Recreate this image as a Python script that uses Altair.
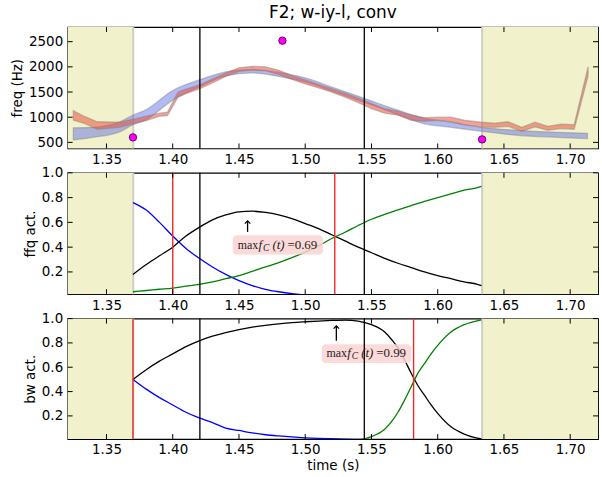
import altair as alt
import pandas as pd

TITLE = "F2; w-iy-l, conv"
X_DOMAIN = [1.3207, 1.721]
X_TICKS = [1.35, 1.40, 1.45, 1.50, 1.55, 1.60, 1.65, 1.70]

SHADE_START = [1.3207, 1.6335]
SHADE_END = [1.3702, 1.721]
SHADE_EDGES = [1.3702, 1.6335]
BLACK_LINES = [1.4205, 1.5446]

# ---------------- panel 1 : formant tracks ----------------
F_DOMAIN = [380, 2790]
F_TICKS = [500, 1000, 1500, 2000, 2500]
BLUE_T = [1.325, 1.34, 1.36, 1.37, 1.38, 1.40, 1.42, 1.44, 1.46, 1.48, 1.50, 1.52,
          1.545, 1.57, 1.59, 1.61, 1.633, 1.66, 1.69, 1.713]
BLUE_LO = [550, 600, 710, 850, 950, 1340, 1600, 1820, 1880, 1810, 1700, 1520,
           1290, 1050, 870, 800, 720, 640, 600, 575]
BLUE_HI = [790, 800, 906, 1040, 1150, 1530, 1740, 1900, 1950, 1890, 1780, 1600,
           1370, 1140, 980, 900, 800, 740, 700, 680]
RED_T = [1.325, 1.333, 1.343, 1.36, 1.37, 1.38, 1.39, 1.396, 1.404, 1.41, 1.42, 1.43,
         1.44, 1.45, 1.46, 1.47, 1.48, 1.49, 1.50, 1.51, 1.52, 1.53, 1.54, 1.55, 1.56,
         1.57, 1.58, 1.59, 1.60, 1.61, 1.62, 1.633, 1.643, 1.653, 1.6635, 1.6735,
         1.683, 1.693, 1.703, 1.7135]
RED_LO = [940, 880, 760, 800, 870, 930, 1020, 1030, 1400, 1470, 1560, 1680,
          1810, 1910, 1930, 1920, 1850, 1750, 1660, 1580, 1500, 1400, 1290, 1170, 1080,
          1040, 940, 920, 940, 910, 850, 810, 800, 820, 720, 810,
          740, 775, 760, 1820]
RED_HI = [1130, 1020, 910, 900, 960, 1020, 1080, 1100, 1500, 1560, 1640, 1760,
          1880, 1980, 2010, 2000, 1930, 1830, 1740, 1650, 1570, 1480, 1380, 1270, 1170,
          1120, 1040, 990, 1000, 1000, 940, 900, 880, 910, 800, 900,
          820, 860, 850, 2000]
PT_T = [1.37, 1.4828, 1.6335]
PT_F = [600, 2520, 560]

# ---------------- panel 2 : ffq activations ----------------
ACT_TICKS = [0.2, 0.4, 0.6, 0.8, 1.0]
FFQ_DOMAIN = [0.02, 1.0]
FFQ_T = [1.37, 1.38, 1.39, 1.40, 1.41, 1.42, 1.43, 1.44, 1.45, 1.46, 1.47, 1.48, 1.49,
         1.50, 1.51, 1.52, 1.53, 1.54, 1.55, 1.56, 1.57, 1.58, 1.59, 1.60, 1.61, 1.62,
         1.63, 1.633]
FFQ_BLUE = [0.76, 0.70, 0.60, 0.49, 0.39, 0.31, 0.24, 0.18, 0.13, 0.09, 0.06, 0.04, 0.025,
            0.015, 0.01, 0.007, 0.005, 0.004, 0.003, 0.002, 0.002, 0.001, 0.001, 0.001,
            0.0, 0.0, 0.0, 0.0]
FFQ_BLACK = [0.18, 0.26, 0.33, 0.40, 0.49, 0.56, 0.62, 0.66, 0.685, 0.69, 0.68, 0.66, 0.63,
             0.59, 0.55, 0.50, 0.45, 0.40, 0.355, 0.31, 0.27, 0.235, 0.20, 0.17, 0.145, 0.12,
             0.10, 0.09]
FFQ_GREEN = [0.04, 0.05, 0.06, 0.07, 0.085, 0.10, 0.12, 0.145, 0.17, 0.205, 0.24, 0.275, 0.315,
             0.36, 0.41, 0.47, 0.52, 0.575, 0.625, 0.665, 0.70, 0.735, 0.77, 0.80, 0.83, 0.86,
             0.88, 0.89]
FFQ_RED_LINES = [1.40, 1.5223]
FFQ_ANN = {"t": 1.4565, "tip": 0.612, "tail": 0.523, "ty": 0.419,
           "bx1": 1.4453, "bx2": 1.5135, "by1": 0.341, "by2": 0.496, "val": "=0.69"}

# ---------------- panel 3 : bw activations ----------------
BW_DOMAIN = [0.01, 1.0]
BW_T = [1.37, 1.38, 1.39, 1.40, 1.41, 1.42, 1.43, 1.44, 1.45, 1.46, 1.47, 1.48, 1.49,
        1.50, 1.51, 1.52, 1.53, 1.54, 1.55, 1.56, 1.565, 1.57, 1.575, 1.58, 1.585, 1.59,
        1.595, 1.60, 1.61, 1.62, 1.633]
BW_BLACK = [0.50, 0.58, 0.65, 0.71, 0.77, 0.817, 0.855, 0.885, 0.91, 0.93, 0.945, 0.957,
            0.967, 0.974, 0.98, 0.985, 0.988, 0.98, 0.95, 0.89, 0.83, 0.76, 0.66, 0.55,
            0.45, 0.37, 0.29, 0.22, 0.11, 0.05, 0.01]
BW_GREEN = [0.0, 0.0, 0.0, 0.0, 0.0, 0.0, 0.0, 0.0, 0.0, 0.0, 0.0, 0.0, 0.0,
            0.0, 0.0, 0.001, 0.002, 0.004, 0.03, 0.09, 0.15, 0.23, 0.33, 0.44,
            0.55, 0.63, 0.71, 0.78, 0.89, 0.95, 0.99]
BW_BLUE = [0.50, 0.42, 0.35, 0.29, 0.23, 0.183, 0.145, 0.10, 0.08, 0.06, 0.045, 0.035,
           0.027, 0.02, 0.015, 0.012, 0.009, 0.007, 0.005, 0.004, 0.003, 0.002, 0.002,
           0.001, 0.001, 0.001, 0.0, 0.0, 0.0, 0.0, 0.0]
BW_RED_LINES = [1.37, 1.5818]
BW_ANN = {"t": 1.5235, "tip": 0.94, "tail": 0.817, "ty": 0.713,
          "bx1": 1.5125, "bx2": 1.58, "by1": 0.634, "by2": 0.79, "val": "=0.99"}

W = 533
FONT = "DejaVu Sans"
MATH = "Liberation Serif"

xscale = alt.Scale(domain=X_DOMAIN, nice=False, zero=False)


def xaxis(title):
    kw = dict(values=X_TICKS, format=".2f", labelFontSize=13.5, labelFont=FONT,
              labelColor="black", ticks=False, tickSize=0, labelPadding=4,
              domain=False, grid=False, titleFont=FONT, titleFontSize=13.5,
              titleFontWeight="normal", titleColor="black", titlePadding=2)
    kw["title"] = title if title else None
    return alt.Axis(**kw)


def yaxis(title, ticks, fmt):
    return alt.Axis(values=ticks, format=fmt, labelFontSize=13.5, labelFont=FONT,
                    labelColor="black", ticks=False, tickSize=0, labelPadding=5,
                    domain=False, grid=False, title=title, titleFont=FONT,
                    titleFontSize=13.5, titleFontWeight="normal", titleColor="black",
                    titlePadding=4)


def frame_layers(ydom, yticks, ytitle, yfmt, xtitle):
    X = alt.X("t:Q", scale=xscale, axis=xaxis(xtitle))
    Y = lambda f: alt.Y(f, scale=alt.Scale(domain=ydom, nice=False, zero=False),
                        axis=yaxis(ytitle, yticks, yfmt))
    shade = alt.Chart(pd.DataFrame({"t": SHADE_START, "t2": SHADE_END})).mark_rect(
        fill="#f1f1cb", opacity=1, clip=True).encode(x=X, x2="t2:Q")
    edges = alt.Chart(pd.DataFrame({"t": SHADE_EDGES})).mark_rule(
        color="#cfcfc4", strokeWidth=2).encode(x=X)
    return X, Y, shade, edges


def tick_layers(H, X, Y, yticks):
    xt = pd.DataFrame({"t": X_TICKS})
    yt = pd.DataFrame({"v": yticks})
    top = alt.Chart(xt).mark_rule(color="black", strokeWidth=1).encode(
        x=X, y=alt.value(0), y2=alt.value(5))
    bot = alt.Chart(xt).mark_rule(color="black", strokeWidth=1).encode(
        x=X, y=alt.value(H), y2=alt.value(H - 5))
    left = alt.Chart(yt).mark_rule(color="black", strokeWidth=1).encode(
        y=Y("v:Q"), x=alt.value(0), x2=alt.value(5))
    right = alt.Chart(yt).mark_rule(color="black", strokeWidth=1).encode(
        y=Y("v:Q"), x=alt.value(W), x2=alt.value(W - 5))
    return [top, bot, left, right]


def vlines(X, red):
    b = alt.Chart(pd.DataFrame({"t": BLACK_LINES})).mark_rule(
        color="black", strokeWidth=1.3).encode(x=X)
    layers = [b]
    if red:
        r = alt.Chart(pd.DataFrame({"t": red})).mark_rule(
            color="#f02a2a", strokeWidth=1.4).encode(x=X)
        layers.append(r)
    return layers


# ---------- panel 1 ----------
H1 = 122
X, Y, shade, edges = frame_layers(F_DOMAIN, F_TICKS, "freq (Hz)", "d", None)
blue_df = pd.DataFrame({"t": BLUE_T, "lo": BLUE_LO, "hi": BLUE_HI})
red_df = pd.DataFrame({"t": RED_T, "lo": RED_LO, "hi": RED_HI})
blue_band = alt.Chart(blue_df).mark_area(
    fill="#5565e6", fillOpacity=0.45, stroke="#808080", strokeOpacity=0.45,
    strokeWidth=1.3, interpolate="monotone").encode(x=X, y=Y("lo:Q"), y2="hi:Q")
red_band = alt.Chart(red_df).mark_area(
    fill="#f04a36", fillOpacity=0.52, stroke="#808080", strokeOpacity=0.45,
    strokeWidth=1.3).encode(x=X, y=Y("lo:Q"), y2="hi:Q")
pts = alt.Chart(pd.DataFrame({"t": PT_T, "f": PT_F})).mark_point(
    filled=True, fill="#ff00ff", stroke="#6a006a", strokeWidth=1, size=55,
    opacity=1).encode(x=X, y=Y("f:Q"))
p1 = alt.layer(shade, edges, blue_band, red_band, *vlines(X, None), pts,
               *tick_layers(H1, X, Y, F_TICKS)).properties(
    width=W, height=H1,
    title=alt.TitleParams(TITLE, fontSize=17, font=FONT, fontWeight="normal",
                          color="black", offset=4, anchor="middle"))


def act_panel(H, dom, T, blue, black, green, red, ann, ytitle, xtitle):
    X, Y, shade, edges = frame_layers(dom, ACT_TICKS, ytitle, ".1f", xtitle)
    n = len(T)
    df = pd.DataFrame({
        "t": T * 3,
        "v": blue + black + green,
        "s": ["blue"] * n + ["black"] * n + ["green"] * n,
    })
    lines = alt.Chart(df).mark_line(strokeWidth=1.3, clip=True,
                                    interpolate="monotone").encode(
        x=X, y=Y("v:Q"),
        color=alt.Color("s:N", scale=alt.Scale(domain=["blue", "black", "green"],
                                               range=["#0000ff", "#000000", "#008000"]),
                        legend=None),
        detail="s:N")
    adf = pd.DataFrame([ann])
    box = alt.Chart(adf).mark_rect(fill="#fcd3d3", opacity=0.85, cornerRadius=4).encode(
        x=alt.X("bx1:Q", scale=xscale, axis=xaxis(xtitle)), x2="bx2:Q",
        y=Y("by1:Q"), y2="by2:Q")
    shaft = alt.Chart(adf).mark_rule(color="black", strokeWidth=1.3).encode(
        x=X, y=Y("tail:Q"), y2="tip:Q")
    head = alt.Chart(adf).mark_point(
        shape="M-1,1L0,0L1,1", filled=False, stroke="black", strokeWidth=1.3,
        size=30, opacity=1).encode(x=X, y=Y("tip:Q"))
    base = alt.Chart(adf)
    t_max = base.mark_text(text="max", font=MATH, fontSize=12, align="left",
                           baseline="middle", dx=-10, color="#222").encode(x=X, y=Y("ty:Q"))
    t_f = base.mark_text(text="f", font=MATH, fontSize=13, fontStyle="italic",
                         align="left", baseline="middle", dx=11, color="#222").encode(
        x=X, y=Y("ty:Q"))
    t_c = base.mark_text(text="C", font=MATH, fontSize=9.5, fontStyle="italic",
                         align="left", baseline="middle", dx=15.5, dy=3,
                         color="#222").encode(x=X, y=Y("ty:Q"))
    t_t = base.mark_text(text="(t)", font=MATH, fontSize=13, fontStyle="italic",
                         align="left", baseline="middle", dx=25, color="#222").encode(
        x=X, y=Y("ty:Q"))
    t_v = base.mark_text(font=MATH, fontSize=13, align="left", baseline="middle",
                         dx=40, color="#222").encode(x=X, y=Y("ty:Q"), text="val:N")
    return alt.layer(shade, edges, lines, box, *vlines(X, red), shaft, head,
                     t_max, t_f, t_c, t_t, t_v,
                     *tick_layers(H, X, Y, ACT_TICKS)).properties(width=W, height=H)


p2 = act_panel(122, FFQ_DOMAIN, FFQ_T, FFQ_BLUE, FFQ_BLACK, FFQ_GREEN, FFQ_RED_LINES,
               FFQ_ANN, "ffq act.", None)
p3 = act_panel(121, BW_DOMAIN, BW_T, BW_BLUE, BW_BLACK, BW_GREEN, BW_RED_LINES,
               BW_ANN, "bw act.", "time (s)")

chart = alt.vconcat(p1, p2, p3, spacing=24.5, bounds="flush").properties(
    padding={"left": 10, "top": 2, "right": 2, "bottom": 2},
    background="white",
).configure_view(stroke="black", strokeWidth=1.2)

chart.save("out.html", embed_options={"renderer": "svg", "actions": False})
